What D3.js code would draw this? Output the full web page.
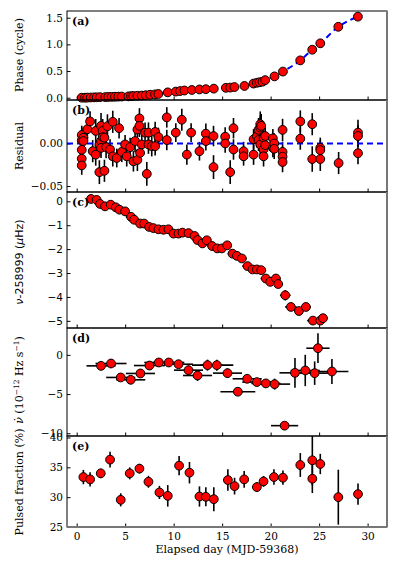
<!DOCTYPE html>
<html>
<head>
<meta charset="utf-8">
<script src="https://cdn.jsdelivr.net/npm/d3@7"></script>
<style>
  body { margin: 0; background: #fff; }
  svg { display: block; }
  .tick text { font-family: "DejaVu Serif", serif; font-size: 10.5px; fill: #000; }
  .sans .tick text { font-family: "DejaVu Sans", sans-serif; }
  .lab { font-family: "DejaVu Serif", serif; font-size: 11px; fill: #000; }
</style>
</head>
<body>
<svg id="chart" width="399" height="569"></svg>
<script>
// (a) phase
var phaseDay = [0.52, 0.86, 1.09, 1.45, 1.79, 2.06, 2.41, 2.95, 3.26, 3.61, 3.95, 4.29, 4.65, 5.33, 5.61, 5.84, 6.26, 6.71, 7.12, 7.57, 8.08, 8.42, 9.39, 10.22, 10.66, 11.11, 11.87, 12.66, 13.32, 14.14, 15.38, 15.83, 16.27, 17.30, 18.23, 18.58, 18.85, 19.16, 19.44, 20.4, 21.27, 23.05, 24.29, 25.12, 26.98, 29.0]
var phase = [0.0, 0.0, 0.002, 0.004, 0.006, 0.008, 0.01, 0.012, 0.014, 0.016, 0.018, 0.02, 0.022, 0.025, 0.028, 0.032, 0.036, 0.04, 0.046, 0.055, 0.062, 0.07, 0.10, 0.115, 0.125, 0.135, 0.145, 0.155, 0.16, 0.17, 0.185, 0.19, 0.20, 0.22, 0.265, 0.28, 0.29, 0.30, 0.33, 0.40, 0.49, 0.70, 0.90, 1.02, 1.33, 1.52]

// (b) residuals
var resDay = [0.52, 0.52, 0.52, 0.52, 0.52, 0.69, 0.69, 1.10, 1.38, 1.65, 1.96, 1.96, 2.34, 2.34, 2.51, 2.51, 2.51, 2.68, 2.68, 2.86, 2.86, 3.03, 3.17, 3.44, 3.72, 3.72, 4.13, 4.37, 4.65, 4.99, 5.16, 5.51, 5.85, 6.02, 6.26, 6.26, 6.47, 6.47, 6.54, 6.71, 7.05, 7.23, 7.40, 7.40, 7.74, 8.09, 8.09, 8.43, 9.29, 9.29, 10.22, 10.84, 11.36, 11.80, 12.66, 13.32, 13.32, 14.11, 14.11, 15.31, 15.31, 15.83, 16.17, 16.17, 17.21, 17.21, 18.24, 18.24, 18.58, 18.75, 18.75, 18.93, 18.93, 18.93, 19.03, 19.27, 19.27, 19.27, 19.44, 19.44, 20.23, 20.23, 20.37, 20.37, 21.23, 21.23, 21.23, 21.23, 23.06, 23.06, 24.29, 24.29, 25.12, 25.12, 25.12, 27.01, 29.01, 29.01, 29.01]
var resVal = [0.0099, 0.0036, -0.0075, -0.0179, -0.0258, 0.0067, 0.0028, 0.0167, 0.0258, -0.0091, 0.0147, -0.0131, -0.0337, -0.0012, 0.0206, 0.0028, -0.0052, 0.0147, 0.0075, -0.0321, 0.0067, -0.0044, 0.0202, -0.0071, 0.0254, -0.0151, -0.0171, 0.0179, -0.0099, -0.0012, -0.0151, -0.0044, -0.0210, 0.0028, 0.0163, -0.0194, 0.0294, 0.0206, -0.0111, -0.0012, 0.0127, -0.0357, 0.0127, -0.0012, -0.0032, 0.0135, -0.0032, 0.0075, 0.0306, 0.0040, 0.0127, 0.0278, -0.0131, 0.0127, -0.0091, 0.0115, 0.0028, 0.0087, -0.0278, 0.0079, 0.0, -0.0337, 0.0179, -0.0071, -0.0091, -0.0151, 0.0048, -0.0131, 0.0083, 0.0159, 0.0040, 0.0226, 0.0187, -0.0012, 0.0206, 0.0067, -0.0071, -0.0151, 0.0087, -0.0020, 0.0060, -0.0052, 0.0, -0.0063, 0.0159, -0.0099, -0.0155, -0.0218, 0.0258, 0.0056, 0.0226, -0.0183, -0.0052, -0.0079, -0.0183, -0.0230, 0.0127, 0.0087, -0.0115]
var resErr = [0.011, 0.012, 0.013, 0.012, 0.011, 0.012, 0.013, 0.014, 0.012, 0.013, 0.014, 0.013, 0.014, 0.013, 0.015, 0.013, 0.012, 0.014, 0.016, 0.013, 0.015, 0.013, 0.014, 0.012, 0.013, 0.012, 0.011, 0.012, 0.012, 0.011, 0.012, 0.011, 0.012, 0.013, 0.014, 0.013, 0.012, 0.013, 0.012, 0.012, 0.012, 0.014, 0.012, 0.011, 0.012, 0.012, 0.011, 0.011, 0.012, 0.012, 0.011, 0.013, 0.012, 0.011, 0.011, 0.012, 0.011, 0.012, 0.014, 0.011, 0.011, 0.014, 0.012, 0.012, 0.011, 0.011, 0.012, 0.012, 0.013, 0.014, 0.013, 0.015, 0.014, 0.012, 0.014, 0.013, 0.012, 0.012, 0.012, 0.012, 0.011, 0.011, 0.012, 0.012, 0.013, 0.012, 0.012, 0.012, 0.013, 0.013, 0.013, 0.015, 0.012, 0.012, 0.014, 0.013, 0.015, 0.013, 0.013]

// (c) nu - 258999
var nuDay = [1.48, 2.06, 2.41, 2.92, 3.51, 4.03, 4.40, 4.99, 5.61, 5.92, 6.54, 6.95, 7.47, 7.91, 8.43, 8.95, 9.46, 9.98, 10.50, 10.91, 11.53, 12.15, 12.46, 12.97, 13.42, 13.97, 14.49, 14.97, 15.52, 16.07, 16.52, 17.03, 17.62, 18.13, 18.58, 19.03, 19.51, 19.96, 20.54, 20.78, 21.51, 22.09, 22.92, 23.64, 24.36, 25.12, 25.40]
var nuVal = [0.10, 0.06, -0.11, -0.21, -0.14, -0.25, -0.35, -0.42, -0.65, -0.77, -0.93, -0.93, -1.07, -1.12, -1.17, -1.19, -1.17, -1.35, -1.35, -1.31, -1.33, -1.45, -1.62, -1.76, -1.63, -1.87, -1.97, -1.97, -1.84, -2.19, -2.28, -2.39, -2.71, -2.85, -2.85, -2.88, -3.23, -3.37, -3.23, -3.46, -3.93, -4.42, -4.59, -4.42, -4.99, -4.99, -4.89]
var nuXErr = [0.5, 0.45, 0.45, 0.45, 0.45, 0.45, 0.45, 0.5, 0.55, 0.55, 0.5, 0.45, 0.45, 0.45, 0.45, 0.45, 0.45, 0.45, 0.45, 0.45, 0.45, 0.45, 0.5, 0.5, 0.45, 0.5, 0.5, 0.5, 0.5, 0.5, 0.5, 0.5, 0.55, 0.5, 0.5, 0.5, 0.55, 0.5, 0.5, 0.5, 0.55, 0.6, 0.5, 0.5, 0.6, 0.5, 0.5]
var nuYErr = [0.04, 0.04, 0.05, 0.04, 0.04, 0.05, 0.05, 0.06, 0.1, 0.06, 0.05, 0.05, 0.05, 0.05, 0.05, 0.05, 0.05, 0.05, 0.06, 0.05, 0.05, 0.06, 0.06, 0.06, 0.06, 0.07, 0.15, 0.08, 0.07, 0.06, 0.06, 0.07, 0.07, 0.06, 0.06, 0.06, 0.08, 0.07, 0.07, 0.08, 0.22, 0.08, 0.08, 0.08, 0.08, 0.08, 0.08]

// (d) nu dot
var nudotDay = [2.51, 3.54, 4.54, 5.57, 6.57, 7.50, 8.47, 9.50, 10.50, 11.53, 12.46, 13.49, 14.45, 15.55, 16.62, 17.58, 18.58, 19.51, 20.41, 21.44, 22.51, 23.57, 24.54, 24.88, 26.32]
var nudotVal = [-1.40, -1.10, -2.88, -3.18, -2.37, -1.36, -0.97, -0.97, -1.19, -1.95, -2.63, -1.31, -1.31, -2.33, -4.70, -3.05, -3.47, -3.64, -3.73, -9.03, -2.29, -1.99, -2.33, 0.85, -2.12]
var nudotXErr = [1.5, 1.6, 1.5, 1.5, 1.5, 1.6, 1.5, 1.6, 1.5, 1.5, 1.5, 1.6, 1.7, 1.5, 1.8, 1.5, 1.5, 1.5, 1.6, 1.4, 1.6, 1.5, 1.5, 1.2, 1.7]
var nudotYErr = [0.4, 0.5, 0.4, 0.4, 0.5, 0.4, 0.4, 0.4, 0.5, 0.6, 0.7, 0.7, 0.7, 0.6, 0.4, 0.5, 0.4, 0.4, 0.7, 0.4, 1.9, 2.0, 1.5, 1.9, 1.6]

// (e) pulsed fraction
var pfDay = [0.69, 1.38, 2.48, 3.44, 4.54, 5.47, 6.47, 7.40, 8.53, 9.39, 10.56, 11.63, 12.66, 13.32, 14.14, 15.59, 16.28, 17.27, 18.58, 19.27, 20.34, 21.27, 23.06, 24.30, 24.30, 25.12, 26.98, 29.01]
var pfVal = [33.37, 32.98, 33.99, 36.29, 29.55, 33.99, 34.78, 32.58, 30.79, 30.22, 35.28, 34.10, 30.11, 30.06, 29.66, 32.87, 31.85, 32.98, 31.69, 32.64, 33.37, 33.26, 35.39, 36.18, 33.09, 35.56, 30.0, 30.51]
var pfErr = [1.2, 1.2, 0.8, 1.3, 1.1, 1.0, 0.8, 1.0, 1.1, 1.8, 1.6, 1.8, 1.7, 1.6, 2.0, 1.8, 1.4, 1.4, 0.8, 0.9, 1.3, 1.2, 2.0, 4.2, 2.4, 1.7, 4.6, 1.8]

var xTicks = [0, 5, 10, 15, 20, 25, 30]

var svg = d3.select("#chart")
var left = 67, right = 387
var x = d3.scaleLinear().domain([-1, 32]).range([left, right])

function panel(top, bottom, ylim, ticks, fmt, name, sans) {
  var y = d3.scaleLinear().domain(ylim).range([bottom, top])
  var g = svg.append("g")
  g.append("g")
    .attr("class", sans ? "sans" : null)
    .attr("transform", "translate(" + left + ",0)")
    .call(d3.axisLeft(y).tickValues(ticks).tickFormat(fmt).tickSize(-3.5).tickPadding(4))
    .call(function(a) { a.select(".domain").remove() })
  g.append("g")
    .attr("transform", "translate(0," + bottom + ")")
    .call(d3.axisBottom(x).tickValues(xTicks).tickSize(-3.5).tickFormat(""))
    .call(function(a) { a.select(".domain").remove() })
  var plot = g.append("g")
  g.append("rect")
    .attr("x", left).attr("y", top)
    .attr("width", right - left).attr("height", bottom - top)
    .attr("fill", "none").attr("stroke", "#000").attr("stroke-width", 1)
  g.append("line")
    .attr("x1", right).attr("x2", right).attr("y1", top).attr("y2", bottom)
    .attr("stroke", "#777").attr("stroke-width", 2)
  g.append("text")
    .attr("x", left + 5).attr("y", top + 14)
    .attr("font-family", "DejaVu Serif").attr("font-weight", "bold").attr("font-size", 11)
    .text(name)
  return {y: y, plot: plot}
}

function errorbars(plot, y, xs, ys, xe, ye) {
  xs.forEach(function(d, i) {
    if (ye) plot.append("line")
      .attr("x1", x(d)).attr("x2", x(d))
      .attr("y1", y(ys[i] - ye[i])).attr("y2", y(ys[i] + ye[i]))
      .attr("stroke", "#000").attr("stroke-width", 1.6)
    if (xe) plot.append("line")
      .attr("x1", x(d - xe[i])).attr("x2", x(d + xe[i]))
      .attr("y1", y(ys[i])).attr("y2", y(ys[i]))
      .attr("stroke", "#000").attr("stroke-width", 1.6)
  })
}

function dots(plot, y, xs, ys) {
  plot.selectAll(null).data(xs).enter().append("circle")
    .attr("cx", function(d) { return x(d) })
    .attr("cy", function(d, i) { return y(ys[i]) })
    .attr("r", 4.4)
    .attr("fill", "#ff0000").attr("stroke", "#000").attr("stroke-width", 1)
}

// (a)
var pa = panel(11, 100, [-0.043, 1.626], [0, 0.5, 1.0, 1.5], d3.format(".1f"), "(a)")
pa.plot.append("path")
  .datum(phaseDay)
  .attr("d", d3.line().x(function(d) { return x(d) }).y(function(d, i) { return pa.y(phase[i]) }).curve(d3.curveMonotoneX))
  .attr("fill", "none").attr("stroke", "#0000ff").attr("stroke-width", 2).attr("stroke-dasharray", "6,4")
dots(pa.plot, pa.y, phaseDay, phase)

// (b)
var pb = panel(100, 192, [-0.057, 0.051], [-0.05, 0.0], d3.format(".2f"), "(b)")
errorbars(pb.plot, pb.y, resDay, resVal, null, resErr)
pb.plot.append("line")
  .attr("x1", left).attr("x2", right).attr("y1", pb.y(0)).attr("y2", pb.y(0))
  .attr("stroke", "#0000ff").attr("stroke-width", 2).attr("stroke-dasharray", "6,4")
dots(pb.plot, pb.y, resDay, resVal)

// (c)
var pc = panel(192, 328, [-5.3, 0.39], [0, -1, -2, -3, -4, -5], d3.format("d"), "(c)", true)
errorbars(pc.plot, pc.y, nuDay, nuVal, nuXErr, nuYErr)
dots(pc.plot, pc.y, nuDay, nuVal)

// (d)
var pd = panel(328, 436, [-10.35, 3.43], [0, -5, -10], d3.format("d"), "(d)")
errorbars(pd.plot, pd.y, nudotDay, nudotVal, nudotXErr, nudotYErr)
dots(pd.plot, pd.y, nudotDay, nudotVal)

// (e)
var pe = panel(436, 527, [25, 40.25], [25, 30, 35, 40], d3.format("d"), "(e)")
pe.plot.append("clipPath").attr("id", "clipE").append("rect")
  .attr("x", left).attr("y", 436).attr("width", right - left).attr("height", 91)
pe.plot.attr("clip-path", "url(#clipE)")
errorbars(pe.plot, pe.y, pfDay, pfVal, null, pfErr)
dots(pe.plot, pe.y, pfDay, pfVal)

svg.append("line")
  .attr("x1", left).attr("x2", right).attr("y1", 527).attr("y2", 527)
  .attr("stroke", "#777").attr("stroke-width", 2)

// x tick labels only at the bottom
svg.append("g")
  .attr("transform", "translate(0,527)")
  .call(d3.axisBottom(x).tickValues(xTicks).tickSize(0).tickPadding(6))
  .call(function(a) { a.select(".domain").remove() })

svg.append("text").attr("class", "lab")
  .attr("x", (left + right) / 2).attr("y", 553).attr("text-anchor", "middle")
  .text("Elapsed day (MJD-59368)")

function ylabel(cy, txt, sans) {
  return svg.append("text").attr("class", "lab")
    .attr("transform", "translate(23," + cy + ") rotate(-90)")
    .attr("text-anchor", "middle")
    .style("font-family", sans ? "DejaVu Sans, sans-serif" : null)
    .text(txt)
}
ylabel(55, "Phase (cycle)")
ylabel(146, "Residual")
var lc = ylabel(262, "", true)
lc.append("tspan").attr("font-style", "italic").text("ν")
lc.append("tspan").text("-258999 (")
lc.append("tspan").attr("font-style", "italic").text("μ")
lc.append("tspan").text("Hz)")
var ld = ylabel(380, "")
ld.append("tspan").attr("font-style", "italic").text("ν̇")
ld.append("tspan").text(" (10")
ld.append("tspan").attr("dy", -4).attr("font-size", 7.5).text("−12")
ld.append("tspan").attr("dy", 4).text(" Hz s")
ld.append("tspan").attr("dy", -4).attr("font-size", 7.5).text("−1")
ld.append("tspan").attr("dy", 4).text(")")
ylabel(482, "Pulsed fraction (%)")
</script>
</body>
</html>
